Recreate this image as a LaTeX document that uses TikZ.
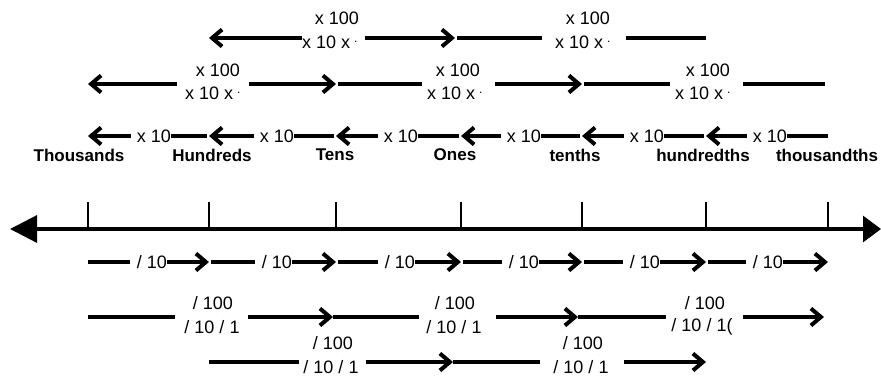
\documentclass[tikz,border=0pt]{standalone}
\usepackage{fontspec}
\setmainfont{Liberation Sans}
\usetikzlibrary{arrows.meta}
\newcommand\xdotmark{\hspace{4pt}\raisebox{6pt}{\fontsize{12}{12}\selectfont .}}
\begin{document}
\begin{tikzpicture}[x=1pt,y=-1pt,
  lbl/.style={font=\fontsize{18}{20}\selectfont, inner sep=0pt},
  place/.style={font=\fontsize{17}{20}\selectfont\bfseries, inner sep=0pt},
  seg/.style={line width=3.2pt},
  arr/.style={line width=3.2pt, -{Straight Barb[length=10pt,width=17pt,line width=4pt]}},
  axisline/.style={line width=3.2pt, {Triangle[length=27pt,width=27pt]}-{Triangle[length=18pt,width=26pt]}},
  tickline/.style={line width=2.4pt}]
\useasboundingbox (0,0) rectangle (881,376);
% row levels
\coordinate (R1) at (0,38);
\coordinate (R2) at (0,84);
\coordinate (R3) at (0,136);
\coordinate (B1) at (0,262);
\coordinate (B2) at (0,317);
\coordinate (B3) at (0,362);
% ticks on the axis
\coordinate (p1) at (88,229);
\coordinate (p2) at (209,229);
\coordinate (p3) at (336,229);
\coordinate (p4) at (461,229);
\coordinate (p5) at (582,229);
\coordinate (p6) at (706,229);
\coordinate (p7) at (828,229);
\coordinate (axL) at (10,229);
\coordinate (axR) at (881,229);
\draw[axisline] (axL) -- (axR);
\foreach \n in {p1,p2,p3,p4,p5,p6,p7} \draw[tickline] (\n) -- ++(0,-27);
% place names
\node[place] (n1) at (79,155) {Thousands};
\node[place] (n2) at (212,155) {Hundreds};
\node[place] (n3) at (335,155) {Tens};
\node[place] (n4) at (455,155) {Ones};
\node[place] (n5) at (575,155) {tenths};
\node[place] (n6) at (703,155) {hundredths};
\node[place] (n7) at (827,155) {thousandths};
% row x 10
\node[lbl] (a1) at (154,136) {x 10};
\node[lbl] (a2) at (277,136) {x 10};
\node[lbl] (a3) at (401,136) {x 10};
\node[lbl] (a4) at (524,136) {x 10};
\node[lbl] (a5) at (647,136) {x 10};
\node[lbl] (a6) at (770,136) {x 10};
\draw[arr, shorten <=6pt] (a1.west) -- (p1 |- R3);
\draw[arr, shorten <=6pt] (a2.west) -- (p2 |- R3);
\draw[arr, shorten <=6pt] (a3.west) -- (p3 |- R3);
\draw[arr, shorten <=6pt] (a4.west) -- (p4 |- R3);
\draw[arr, shorten <=6pt] (a5.west) -- (p5 |- R3);
\draw[arr, shorten <=6pt] (a6.west) -- (p6 |- R3);
\draw[seg, shorten >=2pt] (a1.east) -- (p2 |- R3);
\draw[seg, shorten >=2pt] (a2.east) -- (p3 |- R3);
\draw[seg, shorten >=2pt] (a3.east) -- (p4 |- R3);
\draw[seg, shorten >=2pt] (a4.east) -- (p5 |- R3);
\draw[seg, shorten >=2pt] (a5.east) -- (p6 |- R3);
\draw[seg] (a6.east) -- (p7 |- R3);
% row x 100 (second)
\node[lbl] (b1t) at (218,70) {x 100};
\node[lbl, anchor=west] (b1b) at (185,93) {x 10 x\xdotmark};
\node[lbl] (b2t) at (458,70) {x 100};
\node[lbl, anchor=west] (b2b) at (427,93) {x 10 x\xdotmark};
\node[lbl] (b3t) at (708,70) {x 100};
\node[lbl, anchor=west] (b3b) at (675,93) {x 10 x\xdotmark};
\draw[arr, shorten <=8pt] (b1b.west |- R2) -- (p1 |- R2);
\draw[arr, shorten <=8pt] (b1b.east |- R2) -- (p3 |- R2);
\draw[seg, shorten >=5pt, shorten <=2pt] (p3 |- R2) -- (b2b.west |- R2);
\draw[arr, shorten <=12pt] (b2b.east |- R2) -- (p5 |- R2);
\draw[seg, shorten >=5pt, shorten <=2pt] (p5 |- R2) -- (b3b.west |- R2);
\draw[seg, shorten <=12pt, shorten >=3pt] (b3b.east |- R2) -- (p7 |- R2);
% row x 100 (top)
\node[lbl] (c1t) at (337,18) {x 100};
\node[lbl, anchor=west] (c1b) at (302,42) {x 10 x\xdotmark};
\node[lbl] (c2t) at (588,18) {x 100};
\node[lbl, anchor=west] (c2b) at (555,42) {x 10 x\xdotmark};
\draw[arr] (c1b.west |- R1) -- (p2 |- R1);
\draw[arr, shorten <=7pt, shorten >=6pt] (c1b.east |- R1) -- (p4 |- R1);
\draw[seg, shorten <=-4pt, shorten >=13pt] (p4 |- R1) -- (c2b.west |- R1);
\draw[seg, shorten <=15pt] (c2b.east |- R1) -- (p6 |- R1);
% row / 10
\node[lbl] (e1) at (152,262) {/ 10};
\node[lbl] (e2) at (277,262) {/ 10};
\node[lbl] (e3) at (400,262) {/ 10};
\node[lbl] (e4) at (524,262) {/ 10};
\node[lbl] (e5) at (645,262) {/ 10};
\node[lbl] (e6) at (768,262) {/ 10};
\draw[seg, shorten >=7pt] (p1 |- B1) -- (e1.west);
\draw[seg, shorten <=2pt, shorten >=7pt] (p2 |- B1) -- (e2.west);
\draw[seg, shorten <=2pt, shorten >=7pt] (p3 |- B1) -- (e3.west);
\draw[seg, shorten <=2pt, shorten >=7pt] (p4 |- B1) -- (e4.west);
\draw[seg, shorten <=2pt, shorten >=7pt] (p5 |- B1) -- (e5.west);
\draw[seg, shorten <=2pt, shorten >=7pt] (p6 |- B1) -- (e6.west);
\draw[arr] (e1.east) -- (p2 |- B1);
\draw[arr] (e2.east) -- (p3 |- B1);
\draw[arr] (e3.east) -- (p4 |- B1);
\draw[arr] (e4.east) -- (p5 |- B1);
\draw[arr] (e5.east) -- (p6 |- B1);
\draw[arr] (e6.east) -- (p7 |- B1);
% row / 100 (second)
\node[lbl] (d1t) at (213,303) {/ 100};
\node[lbl] (d1b) at (212,327) {/ 10 / 1};
\node[lbl] (d2t) at (455,303) {/ 100};
\node[lbl] (d2b) at (454,327) {/ 10 / 1};
\node[lbl] (d3t) at (705,303) {/ 100};
\node[lbl] (d3b) at (702,327) {/ 10 / 1(};
\draw[seg, shorten >=9pt] (p1 |- B2) -- (d1b.west |- B2);
\draw[arr, shorten <=8pt, shorten >=3pt] (d1b.east |- B2) -- (p3 |- B2);
\draw[seg, shorten <=-3pt, shorten >=7pt] (p3 |- B2) -- (d2b.west |- B2);
\draw[arr, shorten <=14pt, shorten >=4pt] (d2b.east |- B2) -- (p5 |- B2);
\draw[seg, shorten <=-4pt, shorten >=5pt] (p5 |- B2) -- (d3b.west |- B2);
\draw[arr, shorten <=10pt, shorten >=4pt] (d3b.east |- B2) -- (p7 |- B2);
% row / 100 (bottom)
\node[lbl] (f1t) at (333,343) {/ 100};
\node[lbl] (f1b) at (331,367) {/ 10 / 1};
\node[lbl] (f2t) at (583,343) {/ 100};
\node[lbl] (f2b) at (581,367) {/ 10 / 1};
\draw[seg, shorten >=4pt] (p2 |- B3) -- (f1b.west |- B3);
\draw[arr, shorten <=7pt, shorten >=8pt] (f1b.east |- B3) -- (p4 |- B3);
\draw[seg, shorten <=-8pt, shorten >=13pt] (p4 |- B3) -- (f2b.west |- B3);
\draw[arr, shorten <=15pt] (f2b.east |- B3) -- (p6 |- B3);
\end{tikzpicture}
\end{document}
